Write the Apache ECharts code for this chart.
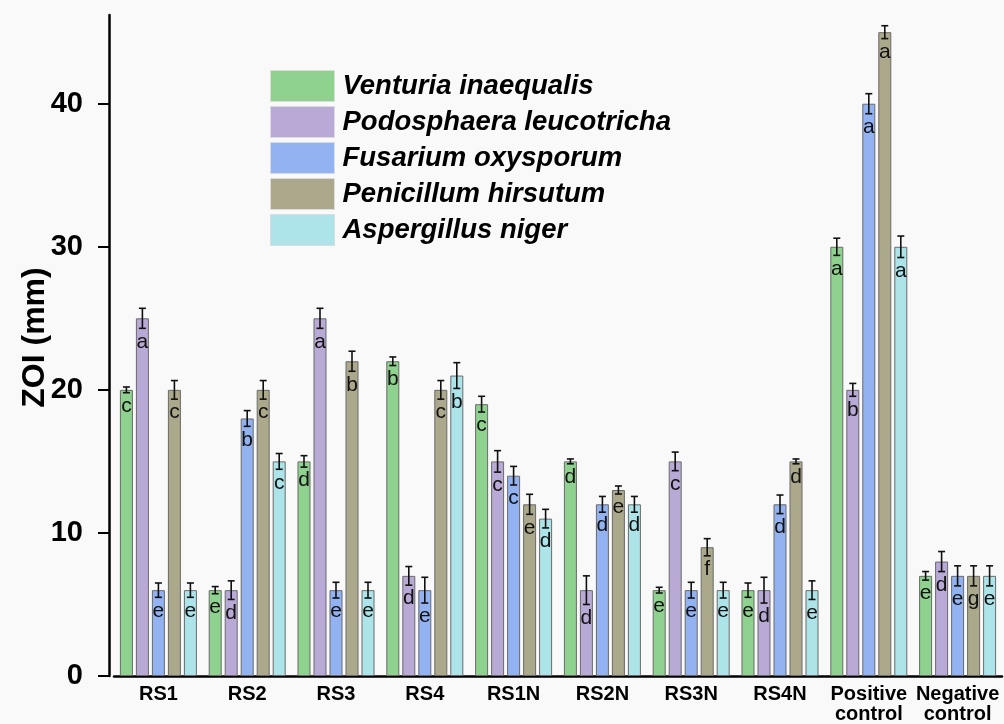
<!DOCTYPE html>
<html>
<head>
<meta charset="utf-8">
<script src="https://cdn.jsdelivr.net/npm/echarts@6/dist/echarts.min.js"></script>
<style>
html,body{margin:0;padding:0;background:#f9f9f9;}
#chart{width:1004px;height:724px;}
</style>
</head>
<body>
<div id="chart"></div>
<script>
const categories = ['RS1','RS2','RS3','RS4','RS1N','RS2N','RS3N','RS4N','Positive\ncontrol','Negative\ncontrol'];
const seriesNames = ['Venturia inaequalis','Podosphaera leucotricha','Fusarium oxysporum','Penicillum hirsutum','Aspergillus niger'];

const venturia      = [20, 6, 15, 22, 19, 15, 6, 6, 30, 7];
const venturiaErr   = [0.2, 0.25, 0.4, 0.3, 0.55, 0.17, 0.2, 0.5, 0.6, 0.3];
const venturiaSig   = ['c','e','d','b','c','d','e','e','a','e'];

const podosphaera    = [25, 6, 25, 7, 15, 6, 15, 6, 20, 8];
const podosphaeraErr = [0.7, 0.65, 0.7, 0.65, 0.75, 1.0, 0.65, 0.9, 0.45, 0.7];
const podosphaeraSig = ['a','d','a','d','c','d','c','d','b','d'];

const fusarium    = [6, 18, 6, 6, 14, 12, 6, 12, 40, 7];
const fusariumErr = [0.5, 0.55, 0.55, 0.9, 0.65, 0.55, 0.55, 0.65, 0.7, 0.7];
const fusariumSig = ['e','b','e','e','c','d','e','d','a','e'];

const penicillum    = [20, 20, 22, 20, 12, 13, 9, 15, 45, 7];
const penicillumErr = [0.65, 0.65, 0.7, 0.65, 0.7, 0.28, 0.6, 0.17, 0.45, 0.7];
const penicillumSig = ['c','c','b','c','e','e','f','d','a','g'];

const aspergillus    = [6, 15, 6, 21, 11, 12, 6, 6, 30, 7];
const aspergillusErr = [0.5, 0.55, 0.55, 0.9, 0.65, 0.55, 0.55, 0.65, 0.75, 0.7];
const aspergillusSig = ['e','c','e','b','d','d','e','e','a','e'];

const yMajorTicks = [0, 10, 20, 30, 40];
const yMinorTicks = [5, 15, 25, 35, 45];
const yMax = 46.2;

const values = [venturia, podosphaera, fusarium, penicillum, aspergillus];
const errors = [venturiaErr, podosphaeraErr, fusariumErr, penicillumErr, aspergillusErr];
const sigs = [venturiaSig, podosphaeraSig, fusariumSig, penicillumSig, aspergillusSig];
const colors = ['#8fd28f', '#b9a9d6', '#93b2f1', '#aba88b', '#ade4e9'];

const BAR_W = 13, GAP = 3;
const FONT = '"Liberation Sans", Arial, Helvetica, sans-serif';

const chart = echarts.init(document.getElementById('chart'), null, {renderer: 'canvas'});

const barSeries = values.map((vals, i) => ({
  type: 'bar',
  name: seriesNames[i],
  data: vals,
  barWidth: BAR_W,
  barGap: (GAP / BAR_W * 100).toFixed(2) + '%',
  itemStyle: {color: colors[i], borderColor: '#6a6a6a', borderWidth: 1},
  emphasis: {disabled: true},
  z: 2
}));

const errSeries = values.map((vals, i) => ({
  type: 'custom',
  name: 'err' + i,
  data: vals.map((v, k) => [k, v, errors[i][k]]),
  z: 5,
  silent: true,
  renderItem: function (params, api) {
    const cat = api.value(0), v = api.value(1), e = api.value(2);
    const off = (i - 2) * (BAR_W + GAP);
    const top = api.coord([cat, v + e]);
    const bot = api.coord([cat, v - e]);
    const x = top[0] + off;
    const cap = 3.5;
    const st = {stroke: '#111', lineWidth: 1.6};
    return {
      type: 'group',
      children: [
        {type: 'line', shape: {x1: x, y1: top[1], x2: x, y2: bot[1]}, style: st},
        {type: 'line', shape: {x1: x - cap, y1: top[1], x2: x + cap, y2: top[1]}, style: st},
        {type: 'line', shape: {x1: x - cap, y1: bot[1], x2: x + cap, y2: bot[1]}, style: st},
        {type: 'text', style: {
          text: sigs[i][params.dataIndex], x: x, y: bot[1] + 3,
          align: 'center', verticalAlign: 'top',
          fontSize: 21, fontFamily: FONT, fill: '#111'
        }}
      ]
    };
  }
}));

const yBase = {
  type: 'value', min: 0, max: yMax, offset: 5,
  splitLine: {show: false}
};

chart.setOption({
  backgroundColor: '#f9f9f9',
  animation: false,
  grid: {left: 114, right: 2, top: 15, bottom: 47, containLabel: false},
  legend: {
    data: seriesNames,
    orient: 'vertical',
    left: 265, top: 65,
    itemWidth: 64, itemHeight: 31, itemGap: 4,
    icon: 'rect',
    itemStyle: {borderColor: '#dcdcdc', borderWidth: 1},
    textStyle: {fontFamily: FONT, fontSize: 27.5, fontWeight: 'bold', fontStyle: 'italic', color: '#000', padding: [0, 0, 0, 3]},
    selectedMode: false
  },
  xAxis: {
    type: 'category',
    data: categories,
    boundaryGap: true,
    axisLine: {lineStyle: {color: '#000', width: 2.5}},
    axisTick: {show: false},
    axisLabel: {fontFamily: FONT, fontSize: 20, fontWeight: 'bold', color: '#000', margin: 8, lineHeight: 20, interval: 0}
  },
  yAxis: [
    Object.assign({}, yBase, {
      name: 'ZOI (mm)', nameLocation: 'middle', nameRotate: 90, nameGap: 58,
      nameMoveOverlap: false,
      nameTextStyle: {fontFamily: FONT, fontSize: 32, fontWeight: 'bold', color: '#000', padding: [0, 0, 0, 16]},
      axisLine: {show: true, lineStyle: {color: '#000', width: 2.5}},
      axisTick: {show: true, length: 11, lineStyle: {color: '#000', width: 2}, customValues: yMajorTicks},
      axisLabel: {fontFamily: FONT, fontSize: 29, fontWeight: 'bold', color: '#000', margin: 26, customValues: yMajorTicks}
    }),
    Object.assign({}, yBase, {
      axisLine: {show: false},
      axisTick: {show: true, length: 6, lineStyle: {color: '#000', width: 2}, customValues: yMinorTicks},
      axisLabel: {show: false}
    })
  ],
  series: barSeries.concat(errSeries)
});
</script>
</body>
</html>
